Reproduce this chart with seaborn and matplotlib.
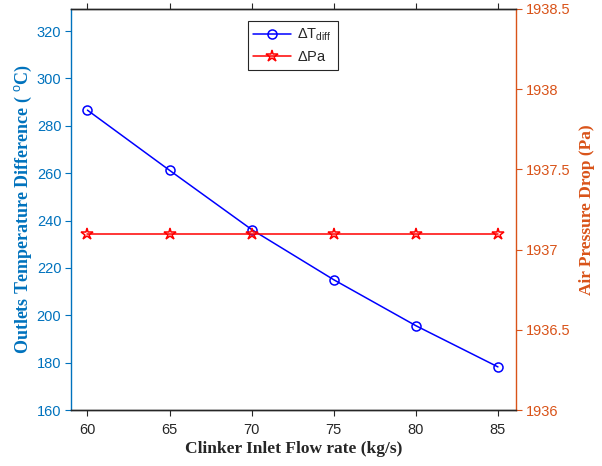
import matplotlib
matplotlib.use("Agg")
import matplotlib.pyplot as plt
import seaborn as sns
import pandas as pd

flow_rate = [60, 65, 70, 75, 80, 85]
delta_t_diff = [286.6, 261.2, 236.2, 215.0, 195.6, 178.2]
delta_pa = [1937.1, 1937.1, 1937.1, 1937.1, 1937.1, 1937.1]

x_ticks = [60, 65, 70, 75, 80, 85]
left_ticks = [160, 180, 200, 220, 240, 260, 280, 300, 320]
right_ticks = [1936, 1936.5, 1937, 1937.5, 1938, 1938.5]
right_ticklabels = ["1936", "1936.5", "1937", "1937.5", "1938", "1938.5"]

sns.set_style("white")
plt.rcParams['font.family'] = ['Liberation Sans', 'DejaVu Sans']
plt.rcParams['mathtext.fontset'] = 'custom'
plt.rcParams['mathtext.rm'] = 'Liberation Sans'
plt.rcParams['mathtext.it'] = 'Liberation Sans:italic'
plt.rcParams['xtick.bottom'] = True
plt.rcParams['ytick.left'] = True

blue_axis = '#0072BD'
orange_axis = '#D95319'

df = pd.DataFrame({'flow': flow_rate, 'dt': delta_t_diff, 'dpa': delta_pa})

fig = plt.figure(figsize=(6.02, 4.66), dpi=100)
ax = fig.add_axes([71/602, 1-410/466, 445/602, 401/466])
ax2 = ax.twinx()

sns.lineplot(data=df, x='flow', y='dt', ax=ax, color='blue', marker='o',
             markersize=6.5, markerfacecolor='none', markeredgecolor='blue',
             markeredgewidth=1.1, linewidth=1.1, label=r'$\Delta$T$_{\rm diff}$', legend=False)
sns.lineplot(data=df, x='flow', y='dpa', ax=ax2, color='red', marker='*',
             markersize=9, markerfacecolor='none', markeredgecolor='red',
             markeredgewidth=1.1, linewidth=1.1, label=r'$\Delta$Pa', legend=False)

ax.set_xlim(59, 86.1)
ax.set_ylim(160, 329.3)
ax2.set_ylim(1936, 1938.5)
ax.set_xticks(x_ticks)
ax.set_yticks(left_ticks)
ax2.set_yticks(right_ticks)
ax2.set_yticklabels(right_ticklabels)

for a in (ax, ax2):
    for s in a.spines.values():
        s.set_linewidth(1.0)
        s.set_color('#262626')
ax.spines['left'].set_color(blue_axis)
ax2.spines['left'].set_visible(False)
ax2.spines['right'].set_color(orange_axis)
ax.spines['right'].set_visible(False)

ax.tick_params(axis='x', which='both', direction='out', length=4, width=0.8, color='#262626',
               labelsize=10.5, top=True, bottom=True, labelcolor='#262626', pad=5)
ax.tick_params(axis='y', direction='out', length=4, width=0.8, color=blue_axis,
               labelcolor=blue_axis, labelsize=10.5, left=True, pad=3)
ax2.tick_params(axis='y', direction='out', length=4, width=0.8, color=orange_axis,
                labelcolor=orange_axis, labelsize=10.5, right=True, pad=3)

ax.set_xlabel('Clinker Inlet Flow rate (kg/s)', fontsize=12.5, fontweight='bold',
              family='Liberation Serif', color='#262626', labelpad=3)
ax.set_ylabel(r'Outlets Temperature Difference ( $^{\rm o}$C)', fontsize=13,
              fontweight='bold', family='Liberation Serif', color=blue_axis, labelpad=2)
ax2.set_ylabel('Air Pressure Drop (Pa)', fontsize=12.5, fontweight='bold',
               family='Liberation Serif', color=orange_axis, labelpad=6)

h1, l1 = ax.get_legend_handles_labels()
h2, l2 = ax2.get_legend_handles_labels()
leg = ax2.legend(h1 + h2, l1 + l2, loc='upper center', bbox_to_anchor=(0.498, 0.97),
                 fancybox=False, framealpha=1, edgecolor='#262626', fontsize=10.5,
                 handlelength=2.6, borderpad=0.4, labelspacing=0.45, borderaxespad=0,
                 handletextpad=0.4)
leg.get_frame().set_linewidth(0.8)

fig.savefig('out.png', dpi=100)
